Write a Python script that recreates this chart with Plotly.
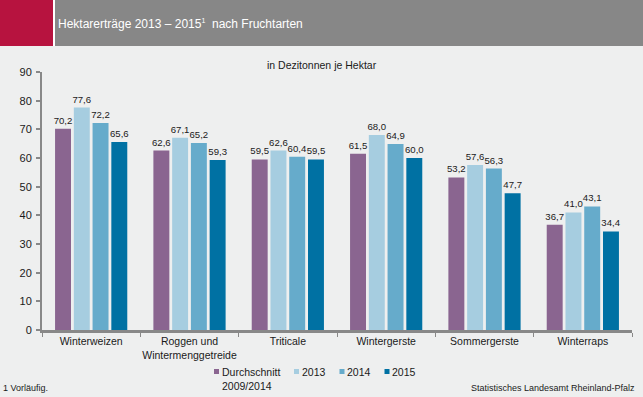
import plotly.graph_objects as go

categories = ["Winterweizen", "Roggen und<br>Wintermenggetreide", "Triticale", "Wintergerste", "Sommergerste", "Winterraps"]
series_names = ["Durchschnitt<br>2009/2014", "2013", "2014", "2015"]
avg_0914 = [70.2, 62.6, 59.5, 61.5, 53.2, 36.7]
y2013 = [77.6, 67.1, 62.6, 68.0, 57.6, 41.0]
y2014 = [72.2, 65.2, 60.4, 64.9, 56.3, 43.1]
y2015 = [65.6, 59.3, 59.5, 60.0, 47.7, 34.4]
y_ticks = [0, 10, 20, 30, 40, 50, 60, 70, 80, 90]

colors = ["#8A6590", "#A6CDE0", "#66ABCB", "#0071A3"]
FONT = "Liberation Sans, Arial, sans-serif"

W, H = 643, 397
L, R, T, B = 42, 11, 72, 67
PW, PH = W - L - R, H - T - B

def px(x):
    return (x - L) / PW

def py(y):
    return (H - B - y) / PH

fig = go.Figure()
for name, vals, col in zip(series_names, [avg_0914, y2013, y2014, y2015], colors):
    fig.add_trace(go.Bar(
        x=categories, y=vals, name=name, marker=dict(color=col, line=dict(width=0)),
        text=[f"{v:.1f}".replace(".", ",") for v in vals],
        textposition="outside", cliponaxis=False, constraintext="none",
        textfont=dict(family=FONT, size=9.6, color="#1a1a1a"),
        showlegend=False,
    ))

fig.update_layout(
    width=W, height=H,
    paper_bgcolor="#EEEFEF", plot_bgcolor="#EEEFEF",
    margin=dict(l=L, r=R, t=T, b=B, autoexpand=False),
    barmode="group", bargap=0.237, bargroupgap=0.15,
    font=dict(family=FONT, size=10.5, color="#1a1a1a"),
    showlegend=False,
)
fig.update_yaxes(range=[0, 90], tickvals=y_ticks, showgrid=False, zeroline=False,
                 showline=True, linecolor="#888888", linewidth=2,
                 ticks="outside", ticklen=4, tickcolor="#888888", tickwidth=2,
                 ticklabelstandoff=2,
                 tickfont=dict(size=11, family=FONT), automargin=False)
fig.update_xaxes(showgrid=False, showline=True, linecolor="#888888", linewidth=2.5,
                 ticks="outside", tickson="boundaries", ticklen=4, tickcolor="#888888",
                 tickwidth=1, tickfont=dict(size=10.5), tickangle=0, automargin=False)

# header bar
fig.add_shape(type="rect", xref="paper", yref="paper", x0=px(0), x1=px(W),
              y0=py(46), y1=py(0), fillcolor="#878787", line=dict(width=0), layer="below")
fig.add_shape(type="rect", xref="paper", yref="paper", x0=px(0), x1=px(53),
              y0=py(46), y1=py(0), fillcolor="#B7133F", line=dict(width=0), layer="below")
fig.add_shape(type="rect", xref="paper", yref="paper", x0=px(53), x1=px(55),
              y0=py(46), y1=py(0), fillcolor="#FFFFFF", line=dict(width=0), layer="below")

fig.add_annotation(text="Hektarerträge 2013 – 2015<sup><span style='font-size:7px'>1</span></sup>  nach Fruchtarten",
                   xref="paper", yref="paper",
                   x=px(56), y=py(24), xanchor="left", yanchor="middle", showarrow=False,
                   font=dict(size=12, color="#FFFFFF", family=FONT))
fig.add_annotation(text="in Dezitonnen je Hektar", xref="paper", yref="paper",
                   x=px(322), y=py(65), xanchor="center", yanchor="middle", showarrow=False,
                   font=dict(size=10.5, family=FONT))
fig.add_annotation(text="1 Vorläufig.", xref="paper", yref="paper",
                   x=px(1), y=py(388), xanchor="left", yanchor="middle", showarrow=False,
                   font=dict(size=9))
fig.add_annotation(text="Statistisches Landesamt Rheinland-Pfalz", xref="paper", yref="paper",
                   x=px(637), y=py(388), xanchor="right", yanchor="middle", showarrow=False,
                   font=dict(size=9))

# legend (manual)
leg_sq_x = [214, 294, 339.5, 384.5]
for name, col, sx in zip(series_names, colors, leg_sq_x):
    fig.add_shape(type="rect", xref="paper", yref="paper", x0=px(sx), x1=px(sx + 5),
                  y0=py(374), y1=py(369), fillcolor=col, line=dict(width=0))
    fig.add_annotation(text=name, xref="paper", yref="paper", x=px(sx + 6.5), y=py(364.5),
                       xanchor="left", yanchor="top", align="left", showarrow=False,
                       font=dict(size=10.5), borderpad=0)

fig.write_html("out.html", post_script="document.body.style.margin='0';",
               config={"displayModeBar": False})
